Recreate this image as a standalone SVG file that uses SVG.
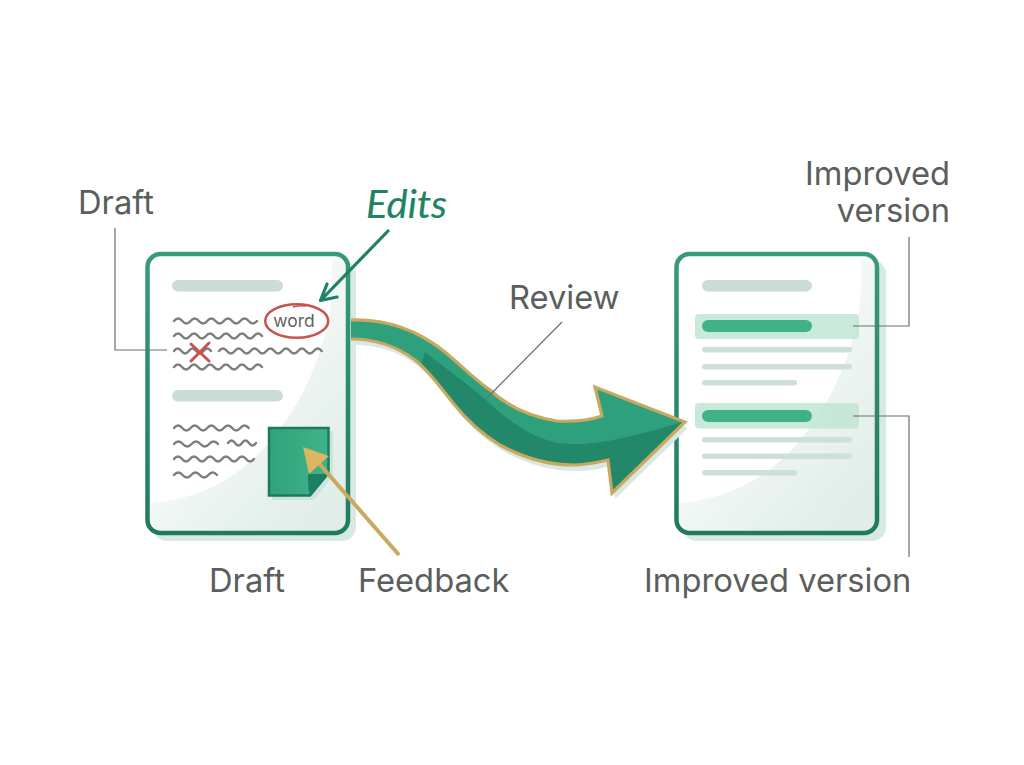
<svg xmlns="http://www.w3.org/2000/svg" xmlns:xlink="http://www.w3.org/1999/xlink" width="1024" height="765" viewBox="0 0 1024 765">
  <style>
    .label { font-family: Inter, "Liberation Sans", sans-serif; font-size: 32.700px; fill: #5a5e5d; }
    .leader { fill: none; stroke: #6b6f6e; stroke-width: 1.2; }
    .wave { fill: none; stroke: #7b7f7d; stroke-width: 2.4; stroke-linecap: round; }
    .shadow { fill: #d8e8e2; }
    .sheet { fill: #ffffff; }
    .frame { fill: none; stroke: url(#frameGrad); stroke-width: 4.5; }
    .title { fill: #c9dcd6; }
    .line { fill: #cddfd9; }
    .band { fill: #bfe5d4; fill-opacity: .85; }
    .pill { fill: #40b287; }
  </style>
  <defs>
    <linearGradient id="frameGrad" x1="0" y1="0" x2="0" y2="1">
      <stop offset="0" stop-color="#379a7b"/>
      <stop offset="1" stop-color="#1f7a61"/>
    </linearGradient>
    <linearGradient id="sheenGrad" x1="0.2" y1="0.3" x2="0.8" y2="1">
      <stop offset="0" stop-color="#fbfdfc"/>
      <stop offset="1" stop-color="#e0ede8"/>
    </linearGradient>
    <linearGradient id="noteGrad" x1="0" y1="0" x2="1" y2="0">
      <stop offset="0" stop-color="#31a27d"/>
      <stop offset="1" stop-color="#3fb488"/>
    </linearGradient>
    <path id="arrowShape" d="M351 320 C385 319 415 328 445 352 C465 369 478 382 490 390 C505 404 525 416 557 421 C575 422 590 420 602 416 L595 387 L685 422 L612 493 L608 460 C595 463 585 465 573 465 C545 465 520 456 500 445 C480 433 465 418 453 403 C440 387 430 372 415 360 C395 345 375 339 351 339 Z"/>
    <path id="arrowEdge" d="M351 320 C385 319 415 328 445 352 C465 369 478 382 490 390 C505 404 525 416 557 421 C575 422 590 420 602 416 L595 387 L685 422 L612 493 L608 460 C595 463 585 465 573 465 C545 465 520 456 500 445 C480 433 465 418 453 403 C440 387 430 372 415 360 C395 345 375 339 351 339"/>
    <clipPath id="arrowClip"><use xlink:href="#arrowShape" href="#arrowShape"/></clipPath>
  </defs>

  <g id="draft-card">
    <rect class="shadow" x="153" y="260" width="203" height="281" rx="14"/>
    <rect class="sheet" x="147.500" y="254" width="200.500" height="279" rx="13"/>
    <path fill="url(#sheenGrad)" d="M331 259 C340 330 300 425 240 470 C210 492 180 501 150 503 L150 517 Q150 531 164 531 L332 531 Q346 531 346 517 L346 270 Q346 260 331 259 Z"/>
    <rect class="frame" x="147.500" y="254" width="200.500" height="279" rx="13"/>
    <rect class="title" x="172" y="280" width="111" height="11.500" rx="5.700"/>
    <rect class="title" x="172" y="390" width="111" height="11.500" rx="5.700"/>
    <path class="wave" d="M174 321 q4.150 -5 8.300 0 t8.300 0 t8.300 0 t8.300 0 t8.300 0 t8.300 0 t8.300 0 t8.300 0 t8.300 0 t8.300 0"/>
    <path class="wave" d="M174 336 q4 -5 8 0 t8 0 t8 0 t8 0 t8 0 t8 0 t8 0 t8 0 t8 0 t8 0 t8 0"/>
    <path class="wave" d="M174 351 q3.700 -5 7.400 0 t7.400 0 t7.400 0 t7.400 0 t7.400 0"/>
    <path class="wave" d="M219 351 q3.950 -5 7.900 0 t7.900 0 t7.900 0 t7.900 0 t7.900 0 t7.900 0 t7.900 0 t7.900 0 t7.900 0 t7.900 0 t7.900 0 t7.900 0 t7.900 0"/>
    <path class="wave" d="M174 367 q4 -5 8 0 t8 0 t8 0 t8 0 t8 0 t8 0 t8 0 t8 0 t8 0 t8 0 t8 0"/>
    <path class="wave" d="M174 428 q4.150 -5 8.300 0 t8.300 0 t8.300 0 t8.300 0 t8.300 0 t8.300 0 t8.300 0 t8.300 0 t8.300 0"/>
    <path class="wave" d="M174 444 q4.400 -5 8.800 0 t8.800 0 t8.800 0 t8.800 0 t8.800 0"/>
    <path class="wave" d="M228 443 q3.500 -5 7 0 t7 0 t7 0 t7 0"/>
    <path class="wave" d="M174 459 q4 -5 8 0 t8 0 t8 0 t8 0 t8 0 t8 0 t8 0 t8 0 t8 0 t8 0"/>
    <path class="wave" d="M174 475 q4.300 -5 8.600 0 t8.600 0 t8.600 0 t8.600 0 t8.600 0"/>
    <ellipse cx="296.700" cy="321" rx="31.500" ry="16.800" fill="none" stroke="#c9534f" stroke-width="2.500"/>
    <path d="M293 307 Q300 305 306 306" fill="none" stroke="#c9534f" stroke-width="1.500"/>
    <text x="294" y="327" text-anchor="middle" font-family="Inter, 'Liberation Sans', sans-serif" font-size="17.500" fill="#5f6362">word</text>
    <path d="M191 344 L209 361 M209 343 L191 361" fill="none" stroke="#c9534f" stroke-width="3" stroke-linecap="round"/>
  </g>

  <g id="feedback-note">
    <path fill="#cfe3dc" d="M272 431 H333 V476 L314 500 H272 Z"/>
    <path fill="url(#noteGrad)" stroke="#1b7a60" stroke-width="2.500" d="M269 428 H328.500 V473 L310 495.500 H269 Z"/>
    <path fill="#1c7f63" d="M308 475 Q309 473 312 474 L328.500 474 L310 495.500 Q308 490 308 475 Z"/>
  </g>

  <g id="improved-card">
    <rect class="shadow" x="683" y="260" width="203" height="281" rx="14"/>
    <rect class="sheet" x="676.500" y="254" width="200.500" height="279" rx="13"/>
    <path fill="url(#sheenGrad)" d="M860 259 C869 330 829 425 769 470 C739 492 709 501 679 503 L679 517 Q679 531 693 531 L861 531 Q875 531 875 517 L875 270 Q875 260 860 259 Z"/>
    <rect class="frame" x="676.500" y="254" width="200.500" height="279" rx="13"/>
    <rect class="title" x="702" y="280" width="110" height="11.500" rx="5.700"/>
    <rect class="band" x="695" y="314" width="164" height="25" rx="4"/>
    <rect class="pill" x="702" y="320" width="110" height="12" rx="6"/>
    <rect class="line" x="702" y="347" width="150" height="5.500" rx="2.700"/>
    <rect class="line" x="702" y="364" width="150" height="5.500" rx="2.700"/>
    <rect class="line" x="702" y="380" width="95" height="5.500" rx="2.700"/>
    <rect class="band" x="695" y="403" width="164" height="25.500" rx="4"/>
    <rect class="pill" x="702" y="410" width="110" height="12" rx="6"/>
    <rect class="line" x="702" y="437" width="150" height="5.500" rx="2.700"/>
    <rect class="line" x="702" y="453.500" width="150" height="5.500" rx="2.700"/>
    <rect class="line" x="702" y="470" width="95" height="5.500" rx="2.700"/>
  </g>

  <g id="connectors">
    <!-- review arrow: soft shadow, body, darker underside, gold rim -->
    <use xlink:href="#arrowShape" href="#arrowShape" transform="translate(3 6)" fill="#d8e8e2"/>
    <use xlink:href="#arrowShape" href="#arrowShape" fill="#2fa07c"/>
    <path clip-path="url(#arrowClip)" fill="#23876a" d="M425 352 C450 372 468 384 487 401 C500 414 525 434 553 442 C570 445 585 444 593 443 C615 441 650 432 682 422 L620 500 L540 475 L460 425 L420 370 Z"/>
    <use xlink:href="#arrowEdge" href="#arrowEdge" fill="none" stroke="#c9a860" stroke-width="3.200" stroke-linejoin="miter"/>

    <!-- edits arrow -->
    <path fill="none" stroke="#1f8265" stroke-width="3.200" stroke-linecap="round" stroke-linejoin="round" d="M388 231 L321 300 M327 284 L320.500 300.500 L337 297"/>

    <!-- feedback arrow -->
    <path fill="none" stroke="#c9a860" stroke-width="4" d="M399 555 L316 460"/>
    <path fill="#dcb662" d="M303 447 L329 456 L309 474 Z"/>

    <!-- label leaders -->
    <path class="leader" d="M115 228 V350 H167"/>
    <path class="leader" d="M562 322 L487 398"/>
    <path class="leader" d="M909 237 V326 H853"/>
    <path class="leader" d="M853 416 H909 V557"/>
  </g>

  <g id="labels">
    <text class="label" x="78" y="214">Draft</text>
    <text x="366" y="218" font-family="Lato, 'Open Sans', sans-serif" font-style="italic" font-size="38" fill="#1f8265" stroke="#1f8265" stroke-width=".2" textLength="81" lengthAdjust="spacingAndGlyphs">Edits</text>
    <text class="label" x="509" y="309">Review</text>
    <text class="label" x="950" y="185" text-anchor="end">Improved</text>
    <text class="label" x="950" y="222" text-anchor="end">version</text>
    <text class="label" x="209" y="592">Draft</text>
    <text class="label" x="358" y="592">Feedback</text>
    <text class="label" x="644" y="592">Improved version</text>
  </g>
</svg>
